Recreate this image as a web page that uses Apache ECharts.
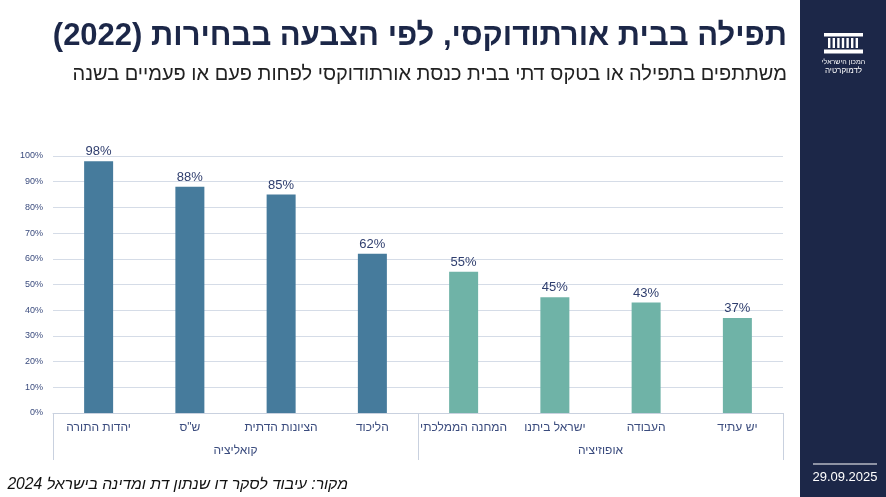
<!DOCTYPE html>
<html>
<head>
<meta charset="utf-8">
<script src="https://cdn.jsdelivr.net/npm/echarts@6/dist/echarts.min.js"></script>
<style>
html,body{margin:0;padding:0;background:#fff;}
#chart{width:886px;height:497px;direction:rtl;}
</style>
</head>
<body>
<div id="chart" dir="rtl"></div>
<script>
const categories = ['יהדות התורה', 'ש"ס', 'הציונות הדתית', 'הליכוד', 'המחנה הממלכתי', 'ישראל ביתנו', 'העבודה', 'יש עתיד'];
const values = [98, 88, 85, 62, 55, 45, 43, 37];
const groups = ['קואליציה', 'אופוזיציה'];
const groupOfCategory = [0, 0, 0, 0, 1, 1, 1, 1];
const groupColors = ['#467B9C', '#6FB3A7'];
const yTicks = [0, 10, 20, 30, 40, 50, 60, 70, 80, 90, 100];

const titleText = 'תפילה בבית אורתודוקסי, לפי הצבעה בבחירות (2022)';
const subtitleText = 'משתתפים בתפילה או בטקס דתי בבית כנסת אורתודוקסי לפחות פעם או פעמיים בשנה';
const sourceText = 'מקור: עיבוד לסקר דו שנתון דת ומדינה בישראל 2024';
const dateText = '29.09.2025';

const chart = echarts.init(document.getElementById('chart'), null, {renderer: 'canvas'});
const navy = '#2F3E6E';
const font = '"Liberation Sans", "DejaVu Sans", sans-serif';

const pillars = [];
for (let i = 0; i < 7; i++) {
  pillars.push({type: 'rect', shape: {x: 828 + i * 4.6, y: 38, width: 2.4, height: 10}, style: {fill: '#fff'}});
}

chart.setOption({
  animation: false,
  textStyle: {fontFamily: font},
  grid: {left: 53, right: 103, top: 156, bottom: 84, containLabel: false},
  xAxis: [
    {
      type: 'category',
      data: categories,
      position: 'bottom',
      axisLine: {show: true, lineStyle: {color: '#C9D1DF', width: 1}},
      axisTick: {show: false},
      axisLabel: {color: '#3B4C7E', fontSize: 12, margin: 9, interval: 0, fontFamily: font}
    },
    {
      type: 'category',
      data: groups,
      position: 'bottom',
      axisLine: {show: false},
      axisTick: {show: true, length: 47, inside: false, lineStyle: {color: '#C9D1DF'}},
      axisLabel: {color: '#3B4C7E', fontSize: 12, margin: 32, interval: 0, fontFamily: font},
      splitLine: {show: false}
    }
  ],
  yAxis: {
    type: 'value',
    min: yTicks[0],
    max: yTicks[yTicks.length - 1],
    interval: 10,
    axisLine: {show: false},
    axisTick: {show: false},
    splitLine: {lineStyle: {color: '#D5DCE7', width: 1}},
    axisLabel: {color: '#3B4C7E', fontSize: 9, margin: 10, formatter: '{value}%', fontFamily: font}
  },
  series: [{
    type: 'bar',
    xAxisIndex: 0,
    barWidth: 29,
    data: values.map((v, i) => ({value: v, itemStyle: {color: groupColors[groupOfCategory[i]]}})),
    label: {show: true, position: 'top', distance: 3, color: navy, fontSize: 13, formatter: '{c}%', fontFamily: font}
  }],
  graphic: [
    {type: 'rect', shape: {x: 800, y: 0, width: 86, height: 497}, style: {fill: '#1C2748'}, z: 0},
    {type: 'rect', shape: {x: 824, y: 33, width: 39, height: 3.5}, style: {fill: '#fff'}},
    ...pillars,
    {type: 'rect', shape: {x: 824, y: 49.5, width: 39, height: 4}, style: {fill: '#fff'}},
    {type: 'text', x: 843.5, y: 62, style: {text: 'המכון הישראלי', fill: '#fff', font: '7px ' + font, textAlign: 'center', textVerticalAlign: 'middle'}},
    {type: 'text', x: 843.5, y: 71, style: {text: 'לדמוקרטיה', fill: '#fff', font: '8px ' + font, textAlign: 'center', textVerticalAlign: 'middle'}},
    {type: 'rect', shape: {x: 813, y: 463.5, width: 64, height: 1}, style: {fill: '#fff'}},
    {type: 'text', x: 845, y: 477, style: {text: dateText, fill: '#fff', font: '13px ' + font, textAlign: 'center', textVerticalAlign: 'middle'}},
    {type: 'text', x: 787, y: 36, style: {text: titleText, fill: '#1C2748', font: 'bold 31px ' + font, textAlign: 'right', textVerticalAlign: 'middle'}},
    {type: 'text', x: 787, y: 74, style: {text: subtitleText, fill: '#222', font: '20px ' + font, textAlign: 'right', textVerticalAlign: 'middle'}},
    {type: 'text', x: 348, y: 485, style: {text: sourceText, fill: '#111', font: 'italic 15.7px ' + font, textAlign: 'right', textVerticalAlign: 'middle'}}
  ]
});
</script>
</body>
</html>
